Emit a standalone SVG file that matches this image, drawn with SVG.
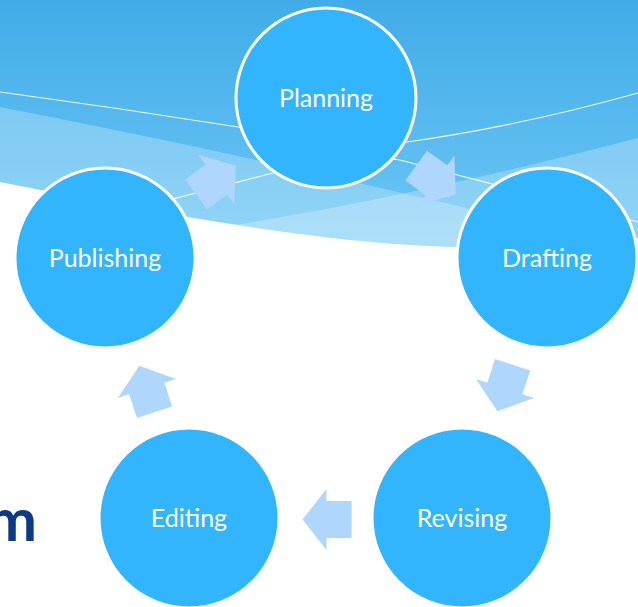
<svg xmlns="http://www.w3.org/2000/svg" width="638" height="607" viewBox="0 0 638 607">
  <defs>
    <linearGradient id="skyGrad" x1="0" y1="0" x2="0" y2="1">
      <stop offset="0" stop-color="#41ace8"/>
      <stop offset="1" stop-color="#70c8f6"/>
    </linearGradient>
    <clipPath id="waveClip">
      <path d="M0,0 H638 V238 Q560,250 460,247 C330,245 150,212 0,182 Z"/>
    </clipPath>
    <path id="blockArrow" d="M-24.5,-18.5 H0.5 V-30.5 L24.5,0 L0.5,30.5 V18.5 H-24.5 Z"/>
  </defs>
  <style>
    .band { fill: #ffffff; fill-opacity: 0.25; }
    .streak { fill: none; stroke: #ffffff; stroke-width: 1.2; stroke-opacity: 0.9; }
    .step circle { fill: #33b5fd; stroke: #ffffff; stroke-width: 3; }
    .step text { font-family: Lato, "Open Sans", sans-serif; font-size: 25px; fill: #ffffff; text-anchor: middle; }
    .arrow { fill: #afd6fd; }
  </style>

  <rect width="638" height="607" fill="#ffffff"/>

  <!-- wave header -->
  <g id="wave" clip-path="url(#waveClip)">
    <rect width="638" height="260" fill="url(#skyGrad)"/>
    <path class="band" d="M0,107 Q300,165 638,250 V300 H0 Z"/>
    <path class="band" d="M235,225 Q420,195 638,138 V300 H235 Z"/>
    <path class="streak" d="M0,92 Q119,108 238,127 Q330,145 407,142 Q520,126 638,93"/>
    <path class="streak" d="M100,218 L273,173 Q340,150 400,160 L638,222"/>
  </g>

  <!-- connectors -->
  <g id="connectors">
    <use href="#blockArrow" class="arrow" transform="translate(216,180) rotate(-36)"/>
    <use href="#blockArrow" class="arrow" transform="translate(436,180) rotate(36)"/>
    <use href="#blockArrow" class="arrow" transform="translate(505,388) rotate(108)"/>
    <use href="#blockArrow" class="arrow" transform="translate(327,519.5) rotate(180)"/>
    <use href="#blockArrow" class="arrow" transform="translate(147,389) rotate(252)"/>
  </g>

  <!-- cycle steps -->
  <g id="planning" class="step">
    <circle cx="326" cy="98" r="90"/>
    <text x="326" y="106.5">Planning</text>
  </g>
  <g id="drafting" class="step">
    <circle cx="547" cy="258" r="90"/>
    <text x="547" y="266.5">Drafting</text>
  </g>
  <g id="revising" class="step">
    <circle cx="462" cy="518" r="90"/>
    <text x="462" y="526.5">Revising</text>
  </g>
  <g id="editing" class="step">
    <circle cx="189" cy="518" r="90"/>
    <text x="189" y="526.5">Editing</text>
  </g>
  <g id="publishing" class="step">
    <circle cx="105" cy="258" r="90"/>
    <text x="105" y="266.5">Publishing</text>
  </g>

  <!-- title fragment at left edge -->
  <text x="37" y="541" font-family="Lato, 'Open Sans', sans-serif" font-weight="bold" font-size="60" fill="#0b3b86" text-anchor="end">m</text>
</svg>
